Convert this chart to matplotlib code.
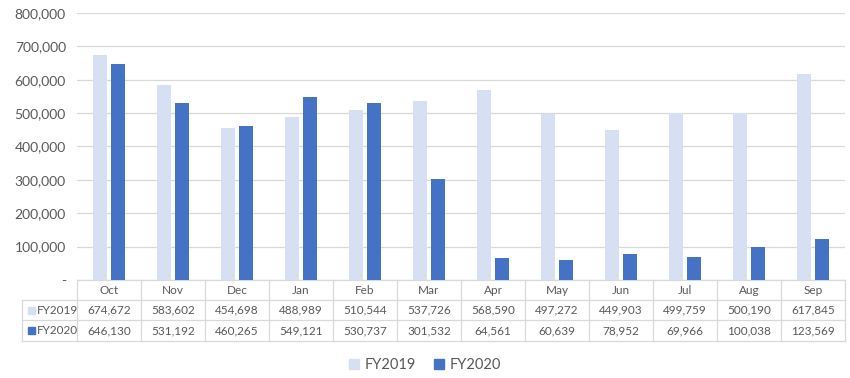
import matplotlib
matplotlib.use("Agg")
from matplotlib import pyplot as plt
from matplotlib.patches import Rectangle
import matplotlib.transforms as mtrans
import numpy as np

months = ["Oct", "Nov", "Dec", "Jan", "Feb", "Mar", "Apr", "May", "Jun", "Jul", "Aug", "Sep"]
fy2019 = [674672, 583602, 454698, 488989, 510544, 537726, 568590, 497272, 449903, 499759, 500190, 617845]
fy2020 = [646130, 531192, 460265, 549121, 530737, 301532, 64561, 60639, 78952, 69966, 100038, 123569]
series_names = ["FY2019", "FY2020"]
y_ticks = [0, 100000, 200000, 300000, 400000, 500000, 600000, 700000, 800000]

light = "#D6E0F2"
dark = "#4472C4"
grid_c = "#D9D9D9"
text_c = "#595959"

plt.rcParams["font.family"] = ["Lato", "DejaVu Sans"]

fig = plt.figure(figsize=(8.5, 3.78), dpi=100)
ax = fig.add_axes([77 / 850, 1 - 280 / 378, 768 / 850, 267 / 378])

x = np.arange(len(months))
w = 0.22
ax.bar(x - 0.14, fy2019, w, color=light, zorder=3)
ax.bar(x + 0.14, fy2020, w, color=dark, zorder=3)

ax.set_xlim(-0.5, len(months) - 0.5)
ax.set_ylim(0, 800000)
ax.set_yticks(y_ticks)
ax.set_yticklabels(["-" if v == 0 else f"{v:,}" for v in y_ticks])
ax.tick_params(axis="y", length=0, labelsize=10, labelcolor=text_c, pad=8)
ax.set_xticks([])
ax.grid(axis="y", color=grid_c, linewidth=0.9, zorder=0)
for s in ax.spines.values():
    s.set_visible(False)

# data table under the chart
px = 1 / 267  # one pixel in axes-fraction units (vertical)
tr = mtrans.blended_transform_factory(ax.transData, ax.transAxes)
row_y = [0, -20 * px, -40 * px, -61 * px]
label_left = -0.5 - 55 / 64
n = len(months)
lkw = dict(transform=tr, color=grid_c, linewidth=0.9, clip_on=False)
ax.plot([-0.5, n - 0.5], [row_y[0]] * 2, **lkw)
for yy in row_y[1:]:
    ax.plot([label_left, n - 0.5], [yy] * 2, **lkw)
for b in np.arange(n + 1) - 0.5:
    ax.plot([b, b], [row_y[0], row_y[3]], **lkw)
ax.plot([label_left, label_left], [row_y[1], row_y[3]], **lkw)

tkw = dict(transform=tr, ha="center", va="center", fontsize=8.5, color=text_c, clip_on=False)
for i, m in enumerate(months):
    ax.text(i, (row_y[0] + row_y[1]) / 2, m, **tkw)
    ax.text(i, (row_y[1] + row_y[2]) / 2, f"{fy2019[i]:,}", **tkw)
    ax.text(i, (row_y[2] + row_y[3]) / 2, f"{fy2020[i]:,}", **tkw)

for k, (name, col) in enumerate(zip(series_names, [light, dark])):
    yc = (row_y[k + 1] + row_y[k + 2]) / 2
    ax.add_patch(Rectangle((label_left + 6 / 64, yc - 3.5 * px), 7 / 64, 7 * px,
                           transform=tr, color=col, clip_on=False))
    ax.text(label_left + 15 / 64, yc, name, transform=tr, ha="left", va="center",
            fontsize=8.5, color=text_c, clip_on=False)

# legend
handles = [Rectangle((0, 0), 1, 1, color=c) for c in [light, dark]]
fig.legend(handles, series_names, loc="center", bbox_to_anchor=(425 / 850, 1 - 365 / 378),
           ncol=2, frameon=False, fontsize=10.5, labelcolor=text_c,
           handlelength=0.7, handleheight=0.7, handletextpad=0.4, columnspacing=1.2)

fig.savefig("out.png", dpi=100, facecolor="white")
